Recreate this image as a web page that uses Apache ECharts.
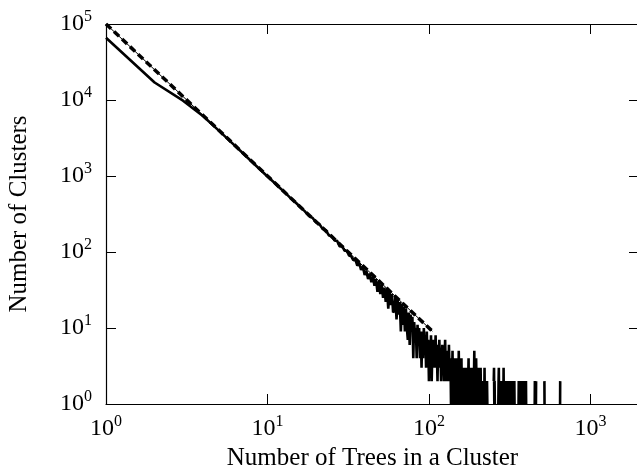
<!DOCTYPE html>
<html>
<head>
<meta charset="utf-8">
<script src="https://cdn.jsdelivr.net/npm/echarts@6/dist/echarts.min.js"></script>
<style>
  html, body { margin: 0; padding: 0; background: #fff; }
  #chart { width: 637px; height: 472px; }
</style>
</head>
<body>
<div id="chart"></div>
<script>
// cluster counts for sizes 1..230 (0 = no cluster of that size)
const countsBySize = [
  66000, 17000, 9800, 6100, 3950, 2750, 2020, 1540, 1220, 985,
  820, 690, 590, 505, 445, 388, 345, 300, 282, 245,
  232, 200, 194, 165, 162, 142, 140, 118, 120, 104,
  104, 90, 88, 78, 80, 66, 72, 58, 64, 50,
  56, 44, 52, 40, 47, 36, 44, 30, 40, 28,
  37, 25, 34, 22, 32, 18, 30, 20, 28, 16,
  17, 26, 13, 24, 15, 22, 9, 21, 11, 19,
  9, 18, 10, 7, 16, 6, 15, 9, 14, 4,
  12, 8, 10, 4, 11, 6, 10, 4, 9, 3,
  9, 4, 10, 5, 8, 3, 9, 4, 7, 2,
  6, 3, 8, 2, 5, 7, 3, 6, 4, 8,
  3, 5, 2, 6, 4, 7, 3, 5, 2, 4,
  6, 3, 5, 2, 4, 7, 3, 2, 5, 3,
  4, 2, 6, 3, 2, 4, 1, 3, 2, 5,
  1, 2, 4, 1, 3, 0, 2, 4, 1, 3,
  2, 1, 5, 2, 0, 3, 1, 2, 4, 1,
  2, 0, 3, 1, 2, 3, 1, 0, 2, 1,
  3, 2, 0, 1, 2, 4, 1, 2, 0, 1,
  3, 1, 2, 0, 2, 1, 3, 1, 0, 2,
  5, 1, 2, 0, 1, 4, 2, 1, 0, 2,
  1, 3, 0, 1, 2, 0, 1, 2, 3, 1,
  0, 2, 1, 0, 1, 2, 1, 0, 2, 1,
  3, 1, 0, 0, 1, 2, 0, 1, 2, 1
];

// larger clusters: only the sizes that occur
const tailSizes = [
  252, 253, 254, 255, 256,
  269, 270, 271, 272, 273, 274,
  276, 277, 278, 279,
  281, 282, 283, 284, 285,
  287, 288, 289, 290, 291, 292, 293,
  295, 296, 297,
  299, 300, 301, 302,
  304, 305, 306,
  308, 309, 310,
  312, 313, 314,
  317, 318, 319,
  321, 322, 323,
  326, 327, 328,
  331, 332, 333,
  337, 338, 339,
  359, 360, 361,
  363, 364, 365,
  368, 369, 370,
  372, 373, 374,
  377, 378, 379,
  382, 383, 384,
  387, 388, 389,
  393, 394, 395,
  398, 399, 400,
  452, 453, 454,
  460, 461,
  519, 520,
  649, 650
];
const tailCounts = [
  2, 3, 1, 2, 1,
  1, 2, 3, 1, 2, 1,
  1, 2, 1, 2,
  1, 2, 1, 1, 2,
  1, 2, 1, 3, 1, 2, 1,
  1, 2, 1,
  1, 2, 1, 2,
  1, 2, 1,
  1, 2, 1,
  1, 2, 1,
  1, 2, 1,
  1, 2, 1,
  1, 2, 1,
  1, 2, 1,
  1, 2, 1,
  1, 2, 1,
  1, 2, 1,
  1, 2, 1,
  1, 2, 1,
  1, 2, 1,
  1, 2, 1,
  1, 2, 1,
  1, 2, 1,
  1, 2, 1,
  1, 2, 1,
  1, 2,
  2, 1,
  1, 2
];

// power-law reference line (slope -2)
const fitX = [1, 105];
const fitY = [100000, 9.07];

const maxSize = 700;
const tailMap = {};
tailSizes.forEach((s, i) => { tailMap[s] = tailCounts[i]; });

const dataLine = [];
for (let s = 1; s <= maxSize; s++) {
  const c = s <= countsBySize.length ? countsBySize[s - 1] : (tailMap[s] || 0);
  dataLine.push([s, c > 0 ? c : null]);
}
const fitLine = fitX.map((x, i) => [x, fitY[i]]);

const serif = "'Liberation Serif', 'Times New Roman', serif";

const powLabel = (v) => {
  const e = Math.round(Math.log10(v));
  if (Math.abs(Math.pow(10, e) - v) > 1e-6 * v) return "";
  return "{b|10}{s|" + e + "}";
};
const richStyle = {
  b: { fontSize: 24, fontFamily: serif, color: "#000", lineHeight: 30 },
  s: { fontSize: 16, fontFamily: serif, color: "#000", verticalAlign: "top" },
};

const chart = echarts.init(document.getElementById("chart"), null, { renderer: "canvas" });

const option = {
  animation: false,
  backgroundColor: "#fff",
  grid: {
    left: 106, right: -2, top: 24, bottom: 68,
    outerBoundsMode: "none",
    containLabel: false,
  },
  xAxis: [
    {
      type: "log",
      logBase: 10,
      min: 1,
      max: 2000,
      position: "bottom",
      name: "Number of Trees in a Cluster",
      nameLocation: "middle",
      nameGap: 40,
      nameTextStyle: { fontFamily: serif, fontSize: 25, color: "#000" },
      axisLine: { show: true, lineStyle: { color: "#000", width: 1.2 } },
      axisTick: { show: true, inside: true, length: 10, lineStyle: { color: "#000" } },
      minorTick: { show: false },
      splitLine: { show: false },
      axisLabel: { formatter: powLabel, rich: richStyle, margin: 10, showMaxLabel: false },
    },
    {
      type: "log",
      logBase: 10,
      min: 1,
      max: 2000,
      position: "top",
      axisLine: { show: true, lineStyle: { color: "#000", width: 1.2 } },
      axisTick: { show: true, inside: true, length: 10, lineStyle: { color: "#000" } },
      splitLine: { show: false },
      axisLabel: { show: false },
    },
  ],
  yAxis: [
    {
      type: "log",
      logBase: 10,
      min: 1,
      max: 100000,
      position: "left",
      name: "Number of Clusters",
      nameLocation: "middle",
      nameGap: 74,
      nameRotate: 90,
      nameTextStyle: { fontFamily: serif, fontSize: 25, color: "#000" },
      axisLine: { show: true, lineStyle: { color: "#000", width: 1.2 } },
      axisTick: { show: true, inside: true, length: 10, lineStyle: { color: "#000" } },
      splitLine: { show: false },
      axisLabel: { formatter: powLabel, rich: richStyle, margin: 14 },
    },
    {
      type: "log",
      logBase: 10,
      min: 1,
      max: 100000,
      position: "right",
      axisLine: { show: true, lineStyle: { color: "#000", width: 1.2 } },
      axisTick: { show: true, inside: true, length: 10, lineStyle: { color: "#000" } },
      splitLine: { show: false },
      axisLabel: { show: false },
    },
  ],
  series: [
    {
      name: "clusters",
      type: "line",
      data: dataLine,
      showSymbol: false,
      symbol: "none",
      connectNulls: false,
      lineStyle: { color: "#000", width: 2.6 },
      z: 2,
    },
    {
      name: "fit",
      type: "line",
      data: fitLine,
      symbol: "none",
      lineStyle: { color: "#000", width: 1 },
      z: 3,
    },
    {
      name: "fit dashed",
      type: "line",
      data: fitLine,
      symbol: "none",
      lineStyle: { color: "#000", width: 3.5, type: [7, 4] },
      z: 4,
    },
  ],
};

chart.setOption(option);
</script>
</body>
</html>
